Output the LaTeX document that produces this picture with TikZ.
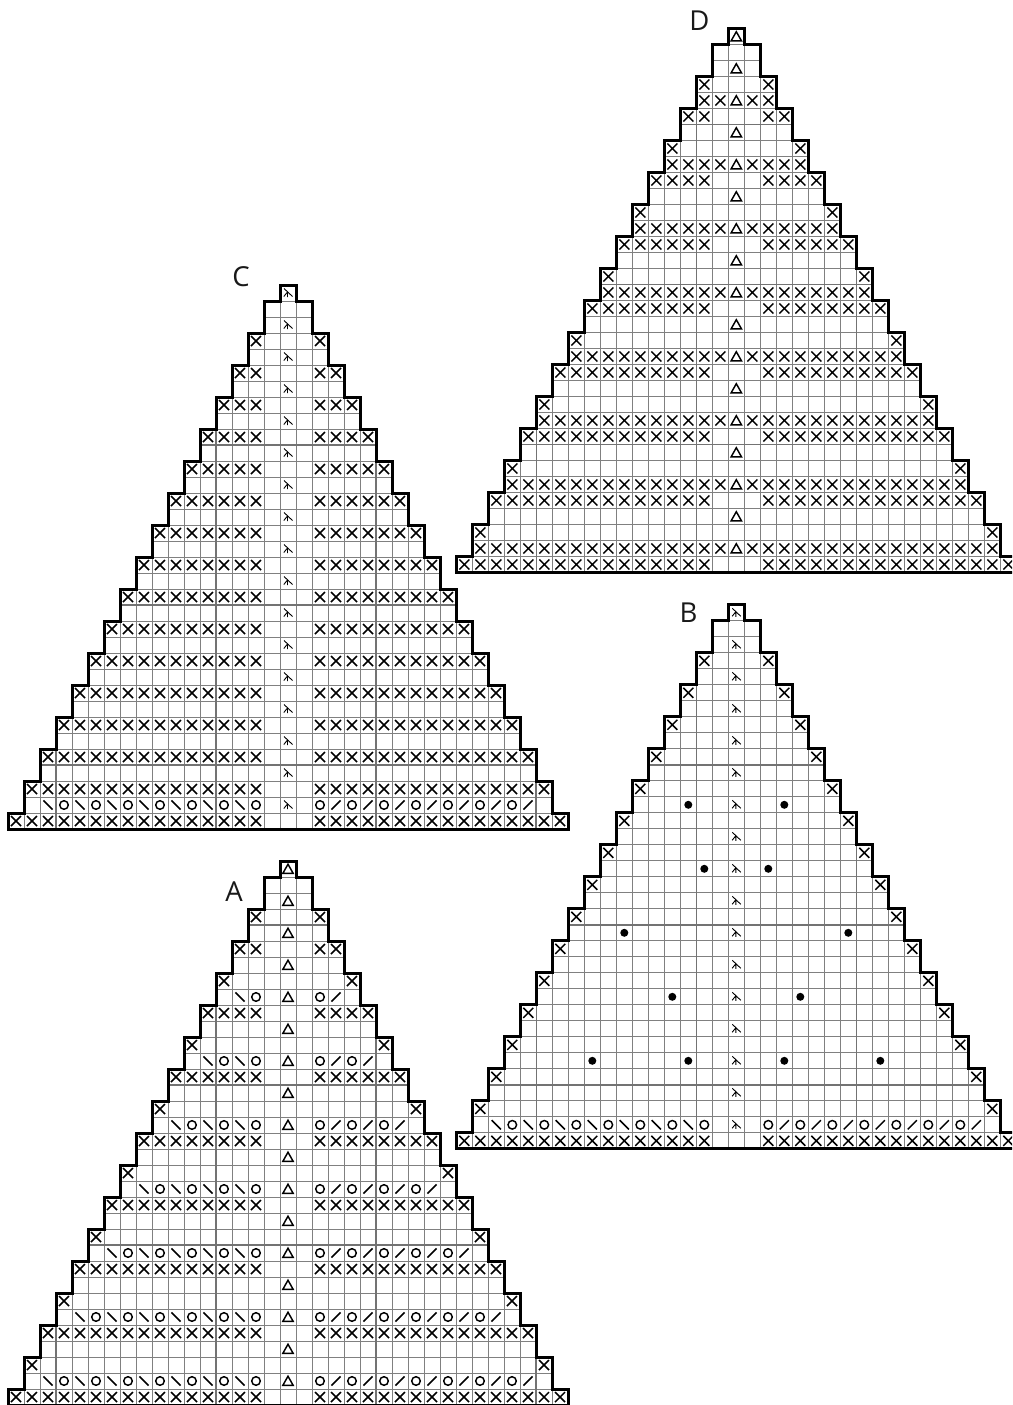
\documentclass[tikz,border=0pt]{standalone}
\usepackage{fontspec}
\setmainfont{Open Sans}
\tikzset{
  grid line/.style={draw=black!50,line width=0.9pt},
  heavy line/.style={draw=black!55,line width=1.5pt},
  outline/.style={draw=black,line width=3pt,line join=miter,line cap=butt},
  sym/.style={draw=black,line width=1.45pt},
  thin sym/.style={draw=black,line width=0.9pt},
  chart label/.style={font=\fontsize{27.5}{27.5}\selectfont,inner sep=0pt,text=black!90}
}
% cell centre = (xo + 16*c, yo + 16*r + 8)
\newcommand{\KX}[2]{\draw[sym] (#1*16-5+\xo,#2*16+8-5+\yo) -- +(10,10) (#1*16+5+\xo,#2*16+8-5+\yo) -- +(-10,10);}
\newcommand{\KO}[2]{\draw[sym] (#1*16+\xo,#2*16+8+\yo) circle[radius=4.3];}
\newcommand{\KBS}[2]{\draw[sym] (#1*16-4.6+\xo,#2*16+8-4.6+\yo) -- +(9.2,9.2);}
\newcommand{\KFS}[2]{\draw[sym] (#1*16+4.6+\xo,#2*16+8-4.6+\yo) -- +(-9.2,9.2);}
\newcommand{\KT}[1]{\draw[sym,line join=miter] (\xo,#1*16+8-4.8+\yo) -- +(5.2,9.2) -- +(-5.2,9.2) -- cycle;}
\newcommand{\KY}[1]{\draw[thin sym] (-4+\xo,#1*16+8-4.5+\yo) -- +(8.5,8) (-0.5+\xo,#1*16+8-1+\yo) -- +(-3.7,4.5) (-0.5+\xo,#1*16+8-1+\yo) -- +(0,5);}
\newcommand{\KDot}[2]{\fill (#1*16+\xo,#2*16+8+\yo) circle[radius=4];}
% #1 = rows with heavy horizontal, #2 = list of  x/first row  for heavy verticals
\newcommand{\KBase}[2]{
  \foreach \r in {0,...,33}{
    \pgfmathtruncatemacro{\h}{(\r+1)/2}
    \foreach \c in {-\h,...,\h}{\draw[grid line] (\c*16-8+\xo,\r*16+\yo) rectangle +(16,16);}
  }
  \foreach \r in {#1}{
    \pgfmathtruncatemacro{\h}{\r/2}
    \draw[heavy line] (-\h*16-8+\xo,\r*16+\yo) -- (\h*16+8+\xo,\r*16+\yo);
  }
  \foreach \vx/\vr in {#2}{\draw[heavy line] (\vx+\xo,\vr*16+\yo) -- (\vx+\xo,544+\yo);}
}
\newcommand{\KOutline}{
  \draw[outline] (-8+\xo,16+\yo) -- (-8+\xo,\yo) -- (8+\xo,\yo) -- (8+\xo,16+\yo)
  \foreach \k in {1,...,16}{ -- ++(16,0) -- ++(0,32) } -- ++(16,0) -- ++(0,16) -- (-280+\xo,544+\yo)
  -- ++(0,-16)
  \foreach \k in {1,...,16}{ -- ++(16,0) -- ++(0,-32) } -- cycle;
}
\newcommand{\KXRange}[3]{\foreach \cc in {#1,...,#2}{\KX{\cc}{#3}}}
\newcommand{\KXBoth}[2]{\KXRange{-#2}{-2}{#1}\KXRange{2}{#2}{#1}}
\newcommand{\KLace}[1]{%
  \pgfmathtruncatemacro{\nn}{#1/4-1}
  \foreach \k in {1,...,\nn}{
    \pgfmathtruncatemacro{\ca}{2*\k}
    \pgfmathtruncatemacro{\cb}{2*\k+1}
    \KO{-\ca}{#1}\KBS{-\cb}{#1}\KO{\ca}{#1}\KFS{\cb}{#1}
  }
}
\begin{document}
\begin{tikzpicture}[x=1pt,y=-1pt]
\useasboundingbox (0,0) rectangle (1012,1405);
\clip (0,0) rectangle (1012,1405);
\fill[white] (0,0) rectangle (1012,1405);

% ---------- D
\def\xo{736.3}\def\yo{28.5}
\KBase{6,16,26}{-200/23,-40/3,120/13}
\foreach \r in {0,2,...,32}{\KT{\r}}
\foreach \r in {3,7,...,31}{
  \pgfmathtruncatemacro{\h}{(\r+1)/2}
  \KX{-\h}{\r}\KX{\h}{\r}
}
\foreach \r in {4,8,...,32}{
  \pgfmathtruncatemacro{\h}{\r/2}
  \KXRange{-\h}{-1}{\r}\KXRange{1}{\h}{\r}
}
\foreach \r in {5,9,...,33}{
  \pgfmathtruncatemacro{\h}{(\r+1)/2}
  \KXBoth{\r}{\h}
}
\KOutline
\node[chart label] (labelD) at (699.5,21) {D};

% ---------- B
\def\xo{736.3}\def\yo{604.8}
\KBase{10,20,30}{-200/23,-40/3,120/13}
\foreach \r in {0,2,...,32}{\KY{\r}}
\foreach \r in {3,5,...,31}{
  \pgfmathtruncatemacro{\h}{(\r+1)/2}
  \KX{-\h}{\r}\KX{\h}{\r}
}
\KXBoth{33}{17}
\KLace{32}
\foreach \c/\r in {-3/12,3/12,-2/16,2/16,-7/20,7/20,-4/24,4/24,-9/28,-3/28,3/28,9/28}{\KDot{\c}{\r}}
\KOutline
\node[chart label] (labelB) at (688.5,613) {B};

% ---------- C
\def\xo{288}\def\yo{285}
\KBase{10,20,30}{-232/27,-72/7,88/9,248/29}
\foreach \r in {0,2,...,32}{\KY{\r}}
\foreach \r in {3,5,...,33}{
  \pgfmathtruncatemacro{\h}{(\r+1)/2}
  \KXBoth{\r}{\h}
}
\KLace{32}
\KOutline
\node[chart label] (labelC) at (241,277) {C};

% ---------- A
\def\xo{288}\def\yo{861}
\KBase{4,14,24}{-232/27,-72/7,88/9,248/29}
\foreach \r in {0,2,...,32}{\KT{\r}}
\foreach \r in {3,7,...,31}{
  \pgfmathtruncatemacro{\h}{(\r+1)/2}
  \KX{-\h}{\r}\KX{\h}{\r}
}
\foreach \r in {5,9,...,33}{
  \pgfmathtruncatemacro{\h}{(\r+1)/2}
  \KXBoth{\r}{\h}
}
\foreach \r in {8,12,...,32}{\KLace{\r}}
\KOutline
\node[chart label] (labelA) at (234,892) {A};
\end{tikzpicture}
\end{document}
